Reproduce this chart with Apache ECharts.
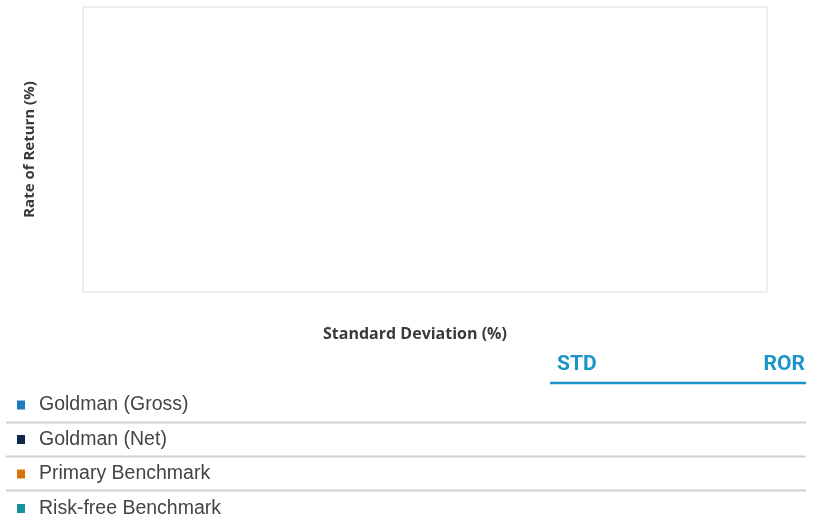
<!DOCTYPE html>
<html>
<head>
<meta charset="utf-8">
<script src="https://cdn.jsdelivr.net/npm/echarts@6/dist/echarts.min.js"></script>
<style>
  html, body { margin: 0; padding: 0; background: #fff; }
  #chart { width: 829px; height: 523px; }
</style>
</head>
<body>
<div id="chart"></div>
<script>
// series shown in the legend table (no points are plotted in the reference)
var seriesNames = ['Goldman (Gross)', 'Goldman (Net)', 'Primary Benchmark', 'Risk-free Benchmark'];
var seriesColors = ['#1b7bc1', '#0d2a4c', '#d8720b', '#17929b'];
// [STD, ROR] pairs per series - empty in the reference
var gossData = [];
var netData = [];
var primaryData = [];
var riskFreeData = [];
var tableHeaders = ['STD', 'ROR'];

var allData = [gossData, netData, primaryData, riskFreeData];

var series = seriesNames.map(function (name, i) {
  return {
    name: name,
    type: 'scatter',
    symbolSize: 10,
    itemStyle: { color: seriesColors[i], opacity: 1 },
    data: allData[i]
  };
});

var rowLines = [422.5, 456.5, 490.5].map(function (y) {
  return {
    type: 'line',
    shape: { x1: 6, y1: y, x2: 806, y2: y },
    style: { stroke: '#cfcfcf', lineWidth: 2 },
    silent: true
  };
});

var chart = echarts.init(document.getElementById('chart'));
chart.setOption({
  animation: false,
  grid: {
    left: 83, top: 7, width: 684, height: 285,
    show: true, borderColor: '#dcdcdc', borderWidth: 1,
    containLabel: false
  },
  xAxis: {
    type: 'value',
    name: 'Standard Deviation (%)',
    nameLocation: 'middle',
    nameGap: 34,
    nameTextStyle: {
      fontFamily: 'Open Sans', fontWeight: 'bold', fontSize: 16, color: '#3a3a3a',
      padding: [0, 20, 0, 0]
    },
    axisLine: { show: false }, axisTick: { show: false },
    axisLabel: { show: false }, splitLine: { show: false }
  },
  yAxis: {
    type: 'value',
    name: 'Rate of Return (%)',
    nameLocation: 'middle',
    nameGap: 46,
    nameTextStyle: { fontFamily: 'Open Sans', fontWeight: 'bold', fontSize: 15, color: '#3a3a3a' },
    axisLine: { show: false }, axisTick: { show: false },
    axisLabel: { show: false }, splitLine: { show: false }
  },
  legend: {
    orient: 'vertical',
    left: 17,
    top: 395,
    padding: 0,
    icon: 'rect',
    itemWidth: 8,
    itemHeight: 9,
    itemGap: 14.5,
    data: seriesNames,
    itemStyle: { opacity: 1 },
    textStyle: {
      fontFamily: 'Liberation Sans',
      fontSize: 19.5,
      lineHeight: 20,
      color: '#444',
      padding: [0, 0, 0, 9]
    }
  },
  graphic: [
    {
      type: 'text', left: 557, top: 354,
      style: { text: tableHeaders[0], fill: '#1a95c8', font: 'bold 21px Roboto' }
    },
    {
      type: 'text', right: 24, top: 354,
      style: { text: tableHeaders[1], fill: '#1a95c8', font: 'bold 21px Roboto', align: 'right' }
    },
    {
      type: 'line',
      shape: { x1: 550, y1: 383, x2: 806, y2: 383 },
      style: { stroke: '#1a95c8', lineWidth: 2.5 },
      silent: true
    }
  ].concat(rowLines),
  series: series
});
</script>
</body>
</html>
